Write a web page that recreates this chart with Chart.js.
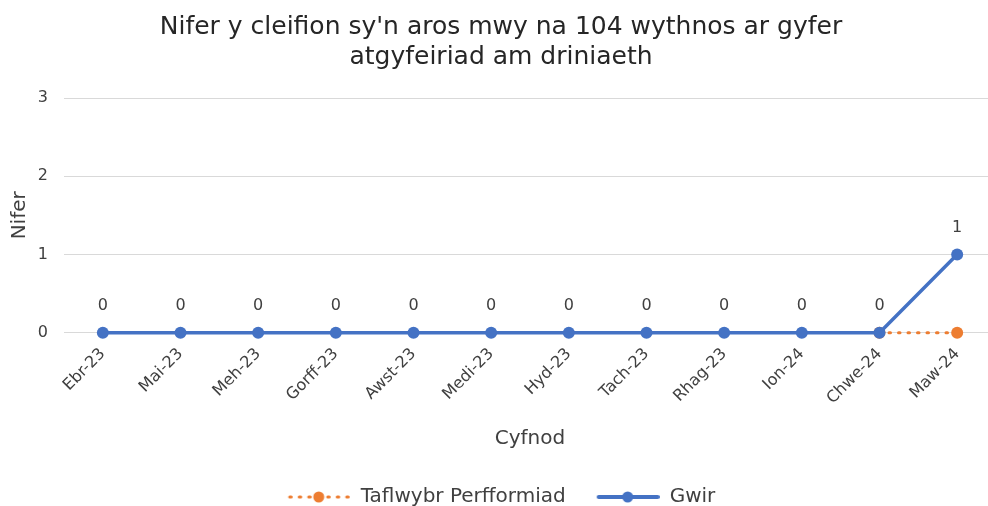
<!DOCTYPE html>
<html>
<head>
<meta charset="utf-8">
<script src="https://cdn.jsdelivr.net/npm/chart.js@4"></script>
<style>
  html, body { margin: 0; padding: 0; background: #fff; overflow: hidden; }
  #wrap { width: 988px; height: 506px; overflow: hidden; }
</style>
</head>
<body>
<div id="wrap"><canvas id="chart" width="1002" height="517"></canvas></div>
<script>
let months = ["Ebr-23","Mai-23","Meh-23","Gorff-23","Awst-23","Medi-23","Hyd-23","Tach-23","Rhag-23","Ion-24","Chwe-24","Maw-24"];
let gwir = [0,0,0,0,0,0,0,0,0,0,0,1];
let taflwybr = [null,null,null,null,null,null,null,null,null,null,0,0];
let yTicks = [0,1,2,3];

const BLUE = "#4472C4";
const ORANGE = "#ED7D31";
const TXT = "#404040";
const FONT = "'DejaVu Sans', Verdana, sans-serif";

function legendIcon(color, dashed) {
  let c = document.createElement("canvas");
  c.width = 64; c.height = 14;
  let x = c.getContext("2d");
  x.strokeStyle = color;
  x.lineWidth = dashed ? 3 : 4;
  x.lineCap = "round";
  if (dashed) x.setLineDash([1.5, 8]);
  x.beginPath(); x.moveTo(3, 7); x.lineTo(62, 7); x.stroke();
  x.setLineDash([]);
  x.fillStyle = color;
  x.beginPath(); x.arc(32, 7, 5.5, 0, Math.PI * 2); x.fill();
  return c;
}

// value labels above the "Gwir" points
const valueLabels = {
  id: "valueLabels",
  afterDatasetsDraw(chart) {
    let ctx = chart.ctx;
    let meta = chart.getDatasetMeta(1);
    ctx.save();
    ctx.font = "16px " + FONT;
    ctx.fillStyle = TXT;
    ctx.textAlign = "center";
    ctx.textBaseline = "middle";
    meta.data.forEach((pt, i) => {
      ctx.fillText(String(gwir[i]), pt.x, pt.y - 27);
    });
    ctx.restore();
  }
};

new Chart(document.getElementById("chart"), {
  type: "line",
  data: {
    labels: months,
    datasets: [
      {
        label: "Taflwybr Perfformiad",
        data: taflwybr,
        borderColor: ORANGE,
        backgroundColor: ORANGE,
        borderWidth: 3,
        borderDash: [1.5, 8],
        borderCapStyle: "round",
        pointRadius: 6,
        pointBorderWidth: 0,
        pointBackgroundColor: ORANGE,
        clip: false,
        order: 2
      },
      {
        label: "Gwir",
        data: gwir,
        borderColor: BLUE,
        backgroundColor: BLUE,
        borderWidth: 3.5,
        pointRadius: 6,
        pointBorderWidth: 0,
        pointBackgroundColor: BLUE,
        clip: false,
        order: 1
      }
    ]
  },
  options: {
    responsive: false,
    animation: false,
    layout: { padding: { left: 0, right: 0, top: 12, bottom: 0 } },
    plugins: {
      title: {
        display: true,
        text: ["Nifer y cleifion sy'n aros mwy na 104 wythnos ar gyfer", "atgyfeiriad am driniaeth"],
        color: "#262626",
        font: { family: FONT, size: 25, weight: "normal", lineHeight: 1.2 },
        padding: { top: 0, bottom: 26 }
      },
      legend: {
        position: "bottom",
        labels: {
          color: TXT,
          font: { family: FONT, size: 20 },
          usePointStyle: true,
          pointStyleWidth: 64,
          padding: 30,
          generateLabels(chart) {
            return chart.data.datasets.map((ds, i) => ({
              text: ds.label,
              fontColor: TXT,
              pointStyle: legendIcon(ds.borderColor, i === 0),
              datasetIndex: i,
              lineWidth: 0,
              strokeStyle: "transparent",
              fillStyle: "transparent"
            }));
          }
        }
      },
      tooltip: { enabled: false }
    },
    scales: {
      x: {
        offset: true,
        grid: { display: false },
        border: { display: false },
        ticks: {
          color: TXT,
          font: { family: FONT, size: 16 },
          minRotation: 45,
          maxRotation: 45,
          padding: 4
        },
        title: {
          display: true,
          text: "Cyfnod",
          color: TXT,
          font: { family: FONT, size: 20 },
          padding: { top: 15, bottom: 6 }
        }
      },
      y: {
        min: 0,
        max: 3,
        afterBuildTicks(axis) { axis.ticks = yTicks.map(v => ({ value: v })); },
        afterFit(axis) { axis.width = 64; },
        grid: { color: "#D9D9D9", lineWidth: 1, drawTicks: false },
        border: { display: false },
        ticks: {
          color: TXT,
          font: { family: FONT, size: 16 },
          padding: 16
        },
        title: {
          display: true,
          text: "Nifer",
          color: TXT,
          font: { family: FONT, size: 20 },
          padding: { top: 8, bottom: 4 }
        }
      }
    }
  },
  plugins: [valueLabels]
});
</script>
</body>
</html>
